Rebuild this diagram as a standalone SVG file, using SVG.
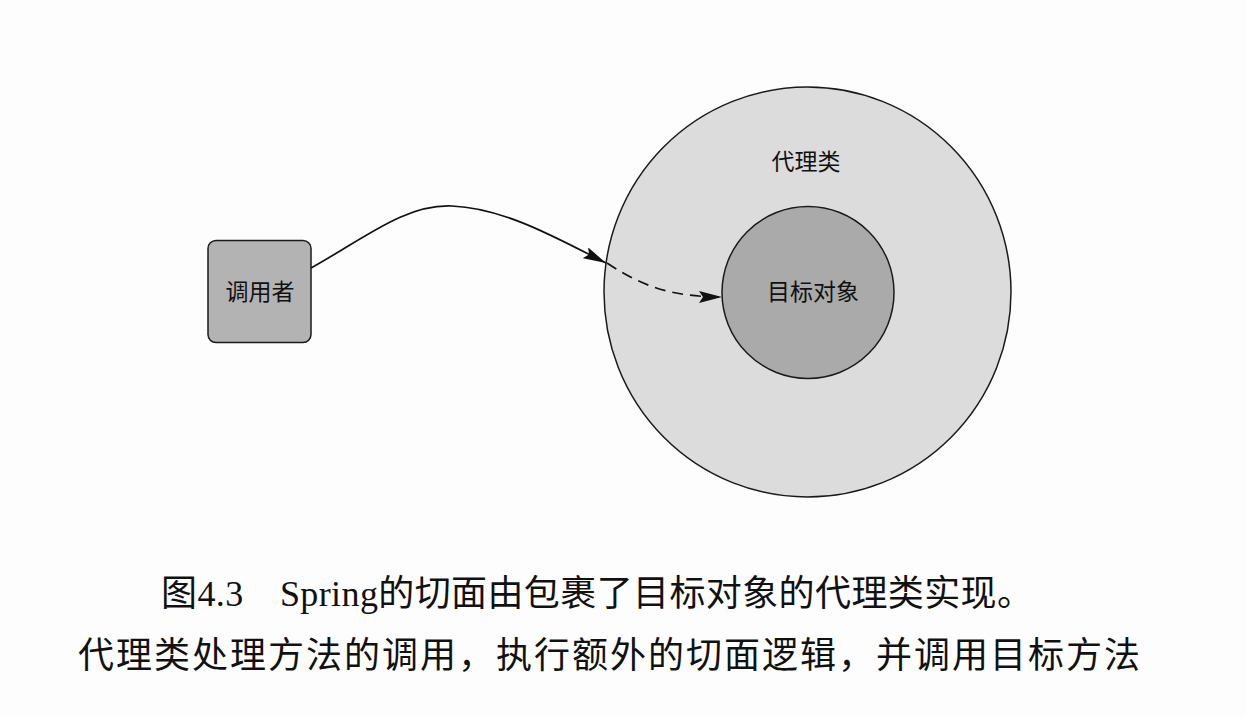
<svg xmlns="http://www.w3.org/2000/svg" width="1246" height="716" viewBox="0 0 1246 716">
  <style>
    .node { stroke: #1a1a1a; stroke-width: 1.5; }
    .lbl { font-family: "Liberation Sans", "Noto Sans CJK SC", sans-serif; font-size: 23px; fill: #111; text-anchor: middle; }
    .cap { font-family: "Liberation Serif", "Noto Sans CJK SC", serif; font-size: 36px; fill: #111; }
    .edge { fill: none; stroke: #111; stroke-width: 1.7; }
  </style>
  <defs>
    <marker id="arrow" markerUnits="userSpaceOnUse" markerWidth="24" markerHeight="13" refX="23" refY="6" orient="auto">
      <path d="M0,0 L23,6 L0,12 L4,6 z" fill="#111"/>
    </marker>
  </defs>
  <rect width="1246" height="716" fill="#fdfdfd"/>

  <g id="proxy">
    <ellipse class="node" cx="807.5" cy="292" rx="203.5" ry="205" fill="#dcdcdc"/>
    <text class="lbl" x="806" y="170">代理类</text>
  </g>
  <g id="target">
    <circle class="node" cx="808" cy="292.5" r="86" fill="#aaaaaa"/>
    <text class="lbl" x="813" y="300">目标对象</text>
  </g>
  <g id="caller">
    <rect class="node" x="208" y="240.5" width="103" height="102" rx="8" fill="#b3b3b3"/>
    <text class="lbl" x="260" y="300">调用者</text>
  </g>

  <g id="connectors">
    <path class="edge" d="M311,268 C365,238 405,204 452,206 C505,208 560,240 606,263" marker-end="url(#arrow)"/>
    <path class="edge" d="M607,263 C640,285 670,297 722,297" stroke-dasharray="11,7" marker-end="url(#arrow)"/>
  </g>

  <g id="caption">
    <text class="cap" x="161" y="606" textLength="872" lengthAdjust="spacing">图4.3　Spring的切面由包裹了目标对象的代理类实现。</text>
    <text class="cap" x="78" y="668" textLength="1062" lengthAdjust="spacing">代理类处理方法的调用，执行额外的切面逻辑，并调用目标方法</text>
  </g>
</svg>
